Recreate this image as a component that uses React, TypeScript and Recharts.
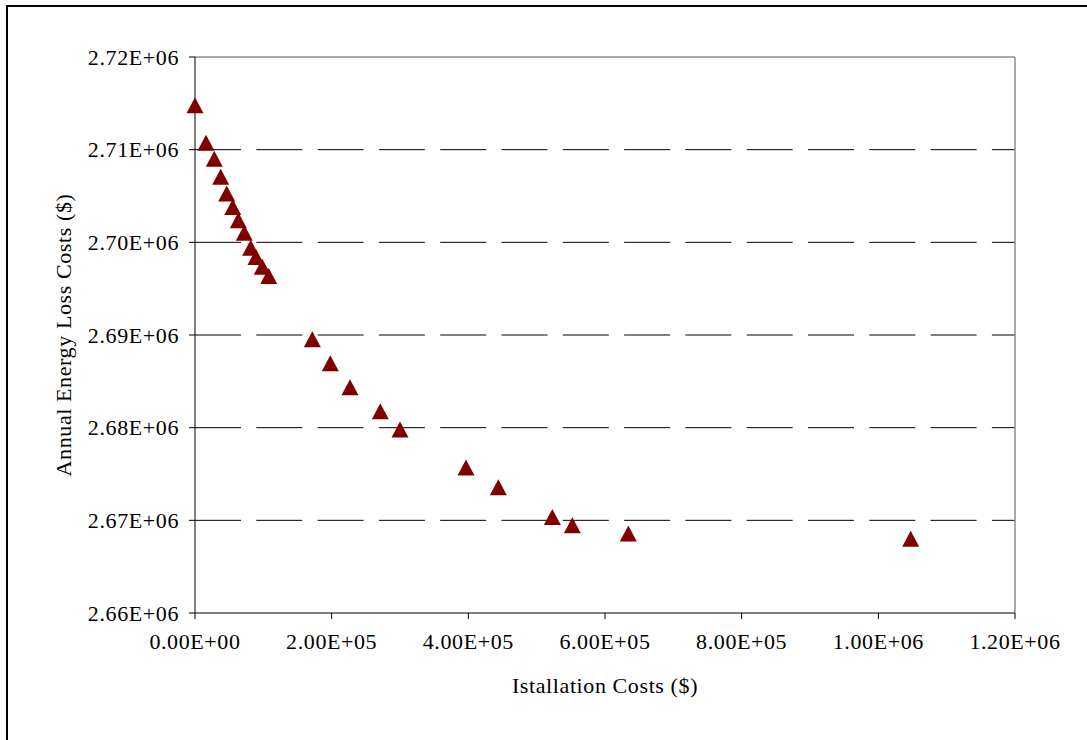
import React from 'react'
import {
  ScatterChart,
  Scatter,
  XAxis,
  YAxis,
  CartesianGrid,
  ReferenceLine,
} from 'recharts'

// installation cost ($) for each placement option
const installCost = [
  0, 16100, 28200, 37600, 46400, 55200, 63400, 72100, 81500, 89300, 98500,
  107900, 171700, 198000, 226800, 271200, 300000, 396600, 443900, 522900,
  552200, 634100, 1047400,
]

// annual energy loss cost ($)
const lossCost = [
  2714800, 2710750, 2709030, 2707080, 2705280, 2703810, 2702370, 2701040,
  2699420, 2698420, 2697370, 2696370, 2689530, 2686940, 2684350, 2681760,
  2679810, 2675710, 2673580, 2670360, 2669460, 2668590, 2668000,
]

const xTicks = [0, 200000, 400000, 600000, 800000, 1000000, 1200000]
const yTicks = [2660000, 2670000, 2680000, 2690000, 2700000, 2710000, 2720000]
const gridValues = [2670000, 2680000, 2690000, 2700000, 2710000]

const points = installCost.map((x, i) => ({ x, y: lossCost[i] }))

const FONT = '"Liberation Serif", "Times New Roman", serif'
const tickStyle = { fill: '#000', fontSize: 22, fontFamily: FONT, letterSpacing: 0.6 }

function sci(v: number) {
  const [m, e] = v.toExponential(2).split('e')
  const n = parseInt(e, 10)
  return `${m}E${n < 0 ? '-' : '+'}${String(Math.abs(n)).padStart(2, '0')}`
}

function Triangle(props: { cx?: number; cy?: number }) {
  const { cx, cy } = props
  if (cx == null || cy == null) return null
  const w = 17
  const h = 16
  const pts = `${cx},${cy - h / 2} ${cx + w / 2},${cy + h / 2} ${cx - w / 2},${cy + h / 2}`
  return <polygon points={pts} fill="#800000" />
}

function YTitle(props: any) {
  const vb = props.viewBox || {}
  const x = (vb.x ?? 0) + 63
  const y = (vb.y ?? 0) + (vb.height ?? 0) / 2
  return (
    <text
      x={x}
      y={y}
      transform={`rotate(-90, ${x}, ${y})`}
      textAnchor="middle"
      dominantBaseline="central"
      style={{ ...tickStyle, fontSize: 22 }}
    >
      Annual Energy Loss Costs ($)
    </text>
  )
}

function XTitle(props: any) {
  const vb = props.viewBox || {}
  const x = (vb.x ?? 0) + (vb.width ?? 0) / 2
  const y = (vb.y ?? 0) + 80
  return (
    <text x={x} y={y} textAnchor="middle" style={{ ...tickStyle, fontSize: 22 }}>
      Istallation Costs ($)
    </text>
  )
}

export default function App() {
  return (
    <div style={{ position: 'fixed', left: 0, top: 0, width: 1087, height: 740, background: '#fff' }}>
      <div
        style={{
          position: 'absolute',
          left: 6,
          top: 5,
          width: 1100,
          height: 760,
          border: '2px solid #000',
        }}
      />
      <div style={{ position: 'absolute', left: 0, top: 0 }}>
        <ScatterChart
          width={1087}
          height={740}
          margin={{ top: 57, right: 72, bottom: 47, left: 0 }}
        >
          <CartesianGrid
            horizontal
            vertical={false}
            horizontalValues={gridValues}
            stroke="#000"
            strokeDasharray="46 15.3"
          />
          <XAxis
            type="number"
            dataKey="x"
            domain={[0, 1200000]}
            ticks={xTicks}
            tickFormatter={sci}
            tick={tickStyle}
            tickSize={6}
            tickMargin={14}
            height={80}
            axisLine={{ stroke: '#000' }}
            tickLine={{ stroke: '#000' }}
            label={<XTitle />}
          />
          <YAxis
            type="number"
            dataKey="y"
            domain={[2660000, 2720000]}
            ticks={yTicks}
            tickFormatter={sci}
            tick={tickStyle}
            tickSize={6}
            tickMargin={10}
            width={195}
            axisLine={{ stroke: '#000' }}
            tickLine={{ stroke: '#000' }}
            label={<YTitle />}
          />
          <ReferenceLine y={2720000} stroke="#8c8c8c" strokeWidth={1.5} />
          <ReferenceLine x={1200000} stroke="#8c8c8c" strokeWidth={1.5} />
          <Scatter data={points} shape={<Triangle />} isAnimationActive={false} />
        </ScatterChart>
      </div>
    </div>
  )
}
